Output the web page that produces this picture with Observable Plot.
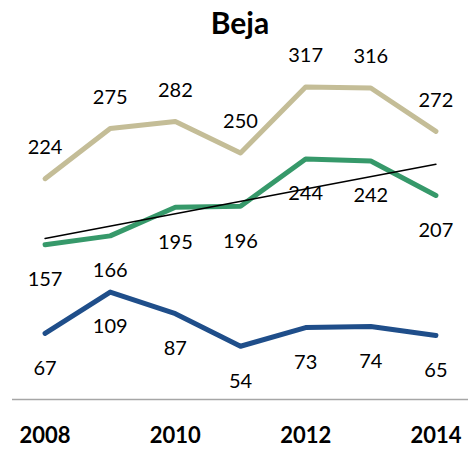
<!DOCTYPE html>
<html>
<head>
<meta charset="utf-8">
<script src="https://cdn.jsdelivr.net/npm/d3@7"></script>
<script src="https://cdn.jsdelivr.net/npm/@observablehq/plot@0.6"></script>
<style>
  html, body { margin: 0; padding: 0; background: #fff; }
  #title { height: 37px; width: 470px; padding-top: 7px; padding-left: 10px; box-sizing: border-box; text-align: center; font-family: Lato, "Open Sans", sans-serif; font-weight: 700; font-size: 30px; line-height: 30px; color: #000; }
  #chart svg { display: block; }
</style>
</head>
<body>
<div id="title">Beja</div>
<div id="chart"></div>
<script>
const years = [2008, 2009, 2010, 2011, 2012, 2013, 2014];
const beigeValues = [224, 275, 282, 250, 317, 316, 272];
const greenValues = [157, 166, 195, 196, 244, 242, 207];
const blueValues = [67, 109, 87, 54, 73, 74, 65];
const tickYears = [2008, 2010, 2012, 2014];

const beige = years.map((y, i) => ({year: y, value: beigeValues[i]}));
const green = years.map((y, i) => ({year: y, value: greenValues[i]}));
const blue = years.map((y, i) => ({year: y, value: blueValues[i]}));

const font = "Lato, 'Open Sans', sans-serif";

const chart = Plot.plot({
  width: 470,
  height: 414,
  marginTop: 17,
  marginBottom: 52,
  marginLeft: 12,
  marginRight: 2,
  style: {fontFamily: font, background: "#fff"},
  x: {domain: [2007.5, 2014.5]},
  y: {domain: [0, 350], axis: null},
  marks: [
    Plot.ruleY([0], {stroke: "#a6a6a6", strokeWidth: 1.5}),
    Plot.axisX(tickYears, {tickSize: 0, tickPadding: 28, tickFormat: "d", fontSize: 22, fontWeight: "bold", fill: "#000", label: null}),
    Plot.lineY(beige, {x: "year", y: "value", stroke: "#c4bd97", strokeWidth: 5}),
    Plot.lineY(green, {x: "year", y: "value", stroke: "#36996a", strokeWidth: 5}),
    Plot.lineY(blue, {x: "year", y: "value", stroke: "#1f4e8a", strokeWidth: 5}),
    Plot.linearRegressionY(green, {x: "year", y: "value", stroke: "#000", strokeWidth: 1.5, ci: 0}),
    Plot.text(beige, {x: "year", y: "value", text: d => String(d.value), dy: -31, fontSize: 20, fill: "#000"}),
    Plot.text(green, {x: "year", y: "value", text: d => String(d.value), dy: 35, fontSize: 20, fill: "#000"}),
    Plot.text(blue, {x: "year", y: "value", text: d => String(d.value), dy: 35, fontSize: 20, fill: "#000"})
  ]
});
document.getElementById("chart").appendChild(chart);
</script>
</body>
</html>
